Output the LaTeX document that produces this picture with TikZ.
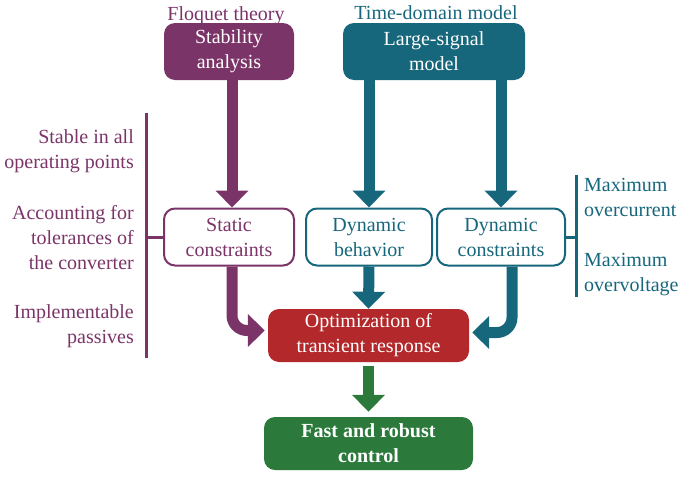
\documentclass[tikz,border=0pt]{standalone}
\usepackage{fontspec}
\setmainfont{Liberation Serif}
\usetikzlibrary{positioning}
\usetikzlibrary{arrows.meta}
\usepackage{xcolor}
\definecolor{plum}{HTML}{7B3468}
\definecolor{petrol}{HTML}{17677C}
\definecolor{brick}{HTML}{B3282B}
\definecolor{forest}{HTML}{2B7A3B}

\begin{document}
\begin{tikzpicture}[x=1pt, y=-1pt, font=\fontsize{20}{25}\selectfont,
        box/.style={rounded corners=11pt, align=center, minimum height=57pt, inner sep=0pt},
        solidbox/.style={box, fill=#1, text=white},
        hollowbox/.style={box, draw=#1, line width=2pt, fill=white, text=#1},
        fat/.style={line width=11pt, draw=#1, rounded corners=15pt, -{Triangle[width=32pt, length=17pt]}},
        bar/.style={line width=3pt, draw=#1},
        note/.style={inner sep=0pt, text=#1}]
        \useasboundingbox (0,0) rectangle (678,477);

        % top boxes and their titles
        \node[solidbox=plum, minimum width=130pt] (stab) at (229,51.5) {Stability\\analysis};
        \node[solidbox=petrol, minimum width=182pt] (large) at (434,51.5) {Large-signal\\model};
        \node[note=plum, anchor=base] (floq) at (226,20) {Floquet theory};
        \node[note=petrol, anchor=base] (tdm) at (436,19) {Time-domain model};

        % middle row
        \node[hollowbox=plum, minimum width=130pt] (static) at (229,237) {Static\\constraints};
        \node[hollowbox=petrol, minimum width=126pt] (dynb) at (369,237) {Dynamic\\behavior};
        \node[hollowbox=petrol, minimum width=128pt] (dync) at (501,237) {Dynamic\\constraints};

        % bottom
        \node[solidbox=brick, minimum width=201pt, minimum height=53pt] (opt) at (368.5,335.5) {Optimization of\\transient response};
        \node[solidbox=forest, minimum width=209pt, minimum height=53pt, font=\fontsize{20}{25}\selectfont\bfseries] (fast) at (368.5,443.5) {Fast and robust\\control};

        % side notes
        \node[note=plum, anchor=north east, align=right] (stable) at (134,129) {Stable in all\\operating points};
        \node[note=plum, anchor=north east, align=right] (toler) at (134,205) {Accounting for\\tolerances of\\the converter};
        \node[note=plum, anchor=north east, align=right] (impl) at (134,304) {Implementable\\passives};
        \node[note=petrol, anchor=north west, align=left] (maxi) at (584,178) {Maximum\\overcurrent};
        \node[note=petrol, anchor=north west, align=left] (maxv) at (584,253) {Maximum\\overvoltage};

        \coordinate (ltop) at (146,113);
        \coordinate (lbot) at (146,358);
        \coordinate (rtop) at (576,175);
        \coordinate (rbot) at (576,297);
        \draw[bar=plum] (ltop) -- (lbot);
        \draw[bar=plum] (static.west) -- (static.west -| ltop);
        \draw[bar=petrol] (rtop) -- (rbot);
        \draw[bar=petrol] (dync.east) -- (dync.east -| rtop);

        % arrows
        \draw[fat=plum] ([xshift=3pt]stab.south) -- ([xshift=3pt]static.north);
        \draw[fat=petrol] (large.south -| dynb.north) -- (dynb.north);
        \draw[fat=petrol] (large.south -| dync.north) -- (dync.north);
        \draw[fat=petrol] (dynb.south) -- (opt.north);
        \draw[fat=plum] ([xshift=3pt]static.south) |- ([xshift=-3pt, yshift=5pt]opt.west);
        \draw[fat=petrol] ([xshift=11pt]dync.south) |- ([xshift=3pt, yshift=3pt]opt.east);
        \draw[fat=forest, shorten <=4pt, shorten >=5pt] (opt.south) -- (fast.north);
\end{tikzpicture}
\end{document}
